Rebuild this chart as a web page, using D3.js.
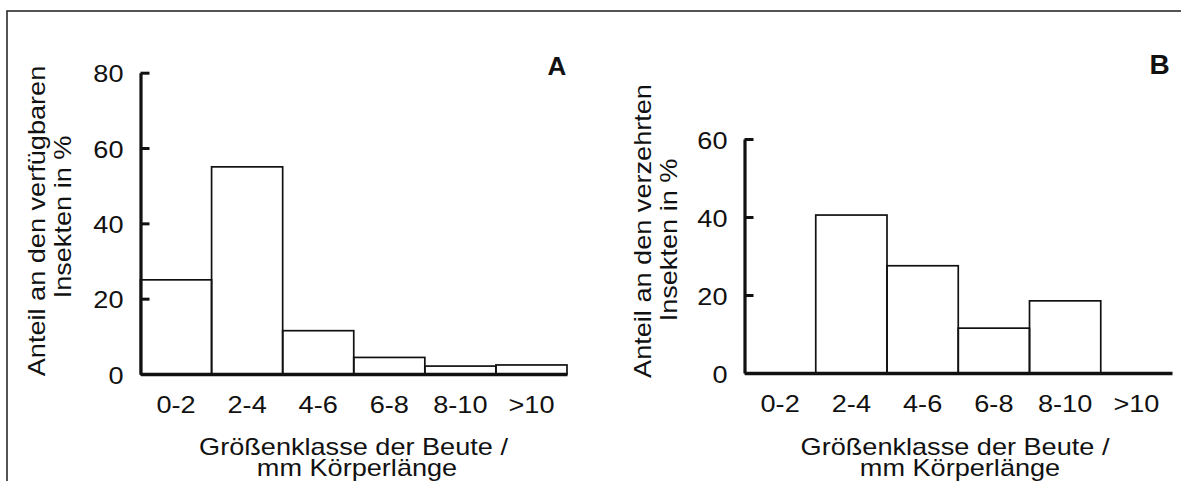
<!DOCTYPE html>
<html>
<head>
<meta charset="utf-8">
<script src="https://cdn.jsdelivr.net/npm/d3@7/dist/d3.min.js"></script>
<style>
  html, body { margin: 0; padding: 0; background: #fff; }
  svg { display: block; }
  text { font-family: "Liberation Sans", Arial, Helvetica, sans-serif; fill: #111; }
</style>
</head>
<body>
<svg id="chart" width="1181" height="481"></svg>
<script>
// ---- data ----
const categories = ["0-2", "2-4", "4-6", "6-8", "8-10", ">10"];
const valuesA = [25, 55, 11.5, 4.4, 2.1, 2.4];   // % of available insects
const valuesB = [0, 40.5, 27.5, 11.5, 18.5, 0];   // % of eaten insects
const ticksA = [0, 20, 40, 60, 80];
const ticksB = [0, 20, 40, 60];
const yTitleA = ["Anteil an den verfügbaren", "Insekten in %"];
const yTitleB = ["Anteil an den verzehrten", "Insekten in %"];
const xTitle = ["Größenklasse der Beute /", "mm Körperlänge"];

const SX = 1.13;      // horizontal glyph widening
const FS = 24;

const svg = d3.select("#chart");

// frame (clipped at right and bottom)
svg.append("rect")
  .attr("x", 7).attr("y", 11).attr("width", 1300).attr("height", 600)
  .attr("fill", "none").attr("stroke", "#2a2a2a").attr("stroke-width", 1.6);

function txt(x, y, s, o = {}) {
  const t = svg.append("text")
    .attr("transform", `translate(${x},${y})` + (o.rot ? ` rotate(${o.rot})` : "") + ` scale(${o.sx || SX},1)`)
    .attr("text-anchor", o.anchor || "middle")
    .attr("font-size", o.size || FS)
    .text(s);
  if (o.bold) t.attr("font-weight", "bold");
  return t;
}

function panel(cfg) {
  const x = d3.scaleBand().domain(categories).range([cfg.x0, cfg.x1]).padding(0);
  const y = d3.scaleLinear().domain([0, cfg.max]).range([cfg.yBottom, cfg.yTop]);
  const g = svg.append("g");

  // bars
  g.selectAll("rect.bar")
    .data(categories.map((c, i) => ({ c, v: cfg.values[i] })).filter(d => d.v > 0))
    .join("rect")
    .attr("class", "bar")
    .attr("x", d => x(d.c))
    .attr("y", d => y(d.v))
    .attr("width", x.bandwidth())
    .attr("height", d => y(0) - y(d.v))
    .attr("fill", "none")
    .attr("stroke", "#111")
    .attr("stroke-width", 1.7);

  // y axis
  const ya = g.append("g")
    .attr("transform", `translate(${cfg.x0},0)`)
    .call(d3.axisLeft(y).tickValues(cfg.ticks).tickSizeInner(-9).tickSizeOuter(0).tickPadding(0));
  ya.select(".domain").attr("stroke", "#111").attr("stroke-width", 3.2);
  ya.selectAll(".tick line").attr("stroke", "#111").attr("stroke-width", 3);
  ya.selectAll(".tick text")
    .attr("x", null).attr("dy", null)
    .attr("transform", `translate(-17,9) scale(${SX},1)`)
    .attr("text-anchor", "end")
    .attr("font-size", FS)
    .attr("font-family", null)
    .attr("fill", "#111");

  // x axis
  const xa = g.append("g")
    .attr("transform", `translate(0,${cfg.yBottom})`)
    .call(d3.axisBottom(x).tickSize(0).tickSizeOuter(0).tickPadding(0));
  xa.select(".domain").attr("stroke", "#111").attr("stroke-width", 3.6);
  xa.selectAll(".tick text")
    .attr("y", null).attr("dy", null)
    .attr("transform", `translate(0,39) scale(${SX},1)`)
    .attr("font-size", FS)
    .attr("font-family", null)
    .attr("fill", "#111");

  // y titles
  txt(cfg.yt1x, cfg.yt1y, cfg.yTitle[0], { rot: -90 });
  txt(cfg.yt2x, cfg.yt2y, cfg.yTitle[1], { rot: -90 });
  // x titles
  txt(cfg.xt1x, 455, xTitle[0]);
  txt(cfg.xt2x, 476, xTitle[1]);
  // panel letter
  txt(cfg.lx, cfg.ly, cfg.letter, { bold: true, size: cfg.lsize, sx: 1 });
}

panel({
  values: valuesA, ticks: ticksA, max: 80,
  x0: 140.5, x1: 567, yBottom: 374, yTop: 72.7,
  yTitle: yTitleA, yt1x: 45, yt1y: 221, yt2x: 71, yt2y: 217,
  xt1x: 353.5, xt2x: 357,
  letter: "A", lx: 557, ly: 75, lsize: 26
});

panel({
  values: valuesB, ticks: ticksB, max: 60,
  x0: 744.5, x1: 1172, yBottom: 373, yTop: 139,
  yTitle: yTitleB, yt1x: 651, yt1y: 231, yt2x: 677, yt2y: 240,
  xt1x: 955, xt2x: 960,
  letter: "B", lx: 1159.5, ly: 74, lsize: 28
});
</script>
</body>
</html>
